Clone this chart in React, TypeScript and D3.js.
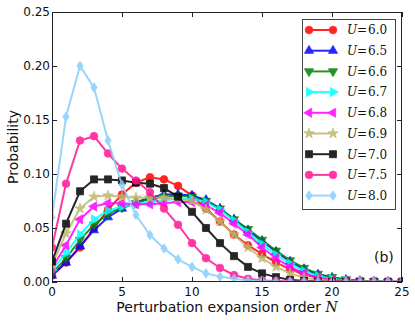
import React from "react";
import * as d3 from "d3";

// perturbation order N = 0..25
const orders = d3.range(0, 26);

const labels = ["6.0", "6.5", "6.6", "6.7", "6.8", "6.9", "7.0", "7.5", "8.0"];

const u60 = [0.006, 0.018, 0.032, 0.050, 0.067, 0.081, 0.092, 0.097, 0.095, 0.089, 0.080, 0.068, 0.056, 0.044, 0.034, 0.026, 0.018, 0.012, 0.007, 0.004, 0.002, 0.001, 0.0005, 0.0003, 0.0002, 0.0001];
const u65 = [0.006, 0.018, 0.033, 0.048, 0.060, 0.068, 0.074, 0.078, 0.081, 0.081, 0.080, 0.076, 0.068, 0.058, 0.048, 0.038, 0.028, 0.019, 0.012, 0.007, 0.004, 0.002, 0.001, 0.0005, 0.0003, 0.0002];
const u66 = [0.008, 0.022, 0.039, 0.053, 0.063, 0.069, 0.073, 0.077, 0.079, 0.080, 0.079, 0.075, 0.068, 0.058, 0.049, 0.039, 0.029, 0.020, 0.013, 0.0075, 0.0045, 0.0025, 0.0012, 0.0006, 0.0003, 0.0002];
const u67 = [0.011, 0.027, 0.044, 0.058, 0.066, 0.070, 0.072, 0.074, 0.076, 0.077, 0.077, 0.074, 0.067, 0.057, 0.046, 0.035, 0.025, 0.017, 0.010, 0.0055, 0.003, 0.0015, 0.0007, 0.0004, 0.0002, 0.0001];
const u68 = [0.013, 0.034, 0.058, 0.070, 0.073, 0.073, 0.072, 0.072, 0.073, 0.074, 0.074, 0.071, 0.064, 0.054, 0.044, 0.032, 0.022, 0.014, 0.008, 0.004, 0.002, 0.001, 0.0005, 0.0003, 0.0002, 0.0001];
const u69 = [0.016, 0.045, 0.068, 0.079, 0.080, 0.079, 0.078, 0.078, 0.078, 0.077, 0.075, 0.067, 0.056, 0.044, 0.032, 0.022, 0.014, 0.008, 0.004, 0.002, 0.001, 0.0005, 0.0003, 0.0002, 0.0001, 0.0001];
const u70 = [0.019, 0.054, 0.084, 0.095, 0.095, 0.094, 0.092, 0.091, 0.087, 0.079, 0.065, 0.050, 0.036, 0.024, 0.014, 0.008, 0.0045, 0.002, 0.001, 0.0005, 0.0003, 0.0002, 0.0001, 0.0001, 0.0001, 0.0001];
const u75 = [0.032, 0.091, 0.131, 0.135, 0.119, 0.105, 0.094, 0.083, 0.068, 0.053, 0.036, 0.022, 0.013, 0.0065, 0.003, 0.0015, 0.001, 0.0005, 0.0003, 0.0002, 0.0001, 0.0001, 0.0001, 0.0001, 0.0001, 0.0001];
const u80 = [0.060, 0.153, 0.200, 0.180, 0.131, 0.090, 0.062, 0.0435, 0.031, 0.021, 0.014, 0.008, 0.005, 0.003, 0.0015, 0.001, 0.0005, 0.0003, 0.0002, 0.0001, 0.0001, 0.0001, 0.0001, 0.0001, 0.0001, 0.0001];

const seriesValues = [u60, u65, u66, u67, u68, u69, u70, u75, u80];
const colors = ["#ff0000", "#0000ff", "#008000", "#00ffff", "#ff00ff", "#bdb76b", "#000000", "#ff1493", "#87cefa"];
const markers = ["circle", "triUp", "triDown", "triRight", "triLeft", "star", "square", "circle", "diamond"];

const xTicks = [0, 5, 10, 15, 20, 25];
const yTicks = [0, 0.05, 0.1, 0.15, 0.2, 0.25];

const W = 415, H = 322;
const left = 52, right = 402, top = 12, bottom = 282;

const triPath = (angle: number) => {
  const p = d3.symbol(d3.symbolTriangle, 36)() as string;
  return { d: p, rot: angle };
};

const markerShape = (kind: string) => {
  switch (kind) {
    case "circle": return { d: d3.symbol(d3.symbolCircle, 46)() as string, rot: 0 };
    case "square": return { d: d3.symbol(d3.symbolSquare, 50)() as string, rot: 0 };
    case "star": return { d: d3.symbol(d3.symbolStar, 34)() as string, rot: 0 };
    case "triUp": return triPath(0);
    case "triDown": return triPath(180);
    case "triRight": return triPath(90);
    case "triLeft": return triPath(-90);
    case "diamond": return { d: "M0,-4.8L3.2,0L0,4.8L-3.2,0Z", rot: 0 };
  }
  return { d: "", rot: 0 };
};

const Marker = ({ kind, x, y, color }: { kind: string; x: number; y: number; color: string }) => {
  const m = markerShape(kind);
  return (
    <path d={m.d} transform={`translate(${x},${y}) rotate(${m.rot})`} fill={color} stroke={color} strokeWidth={0.8} />
  );
};

const App = () => {
  const x = d3.scaleLinear().domain([0, 25]).range([left, right]);
  const y = d3.scaleLinear().domain([0, 0.25]).range([bottom, top]);
  const line = d3.line<number>().x((_, i) => x(orders[i])).y(d => y(d));

  const legX = 302, legY = 19, legW = 93, legH = 190;
  const rowY = (i: number) => 30 + i * 20.7;

  return (
    <svg width={W} height={H} style={{ position: "absolute", left: 0, top: 0, background: "#fff" }}>
      <defs>
        <clipPath id="plot">
          <rect x={left} y={top} width={right - left} height={bottom - top} />
        </clipPath>
      </defs>
      <rect width={W} height={H} fill="#fff" />
      <g clipPath="url(#plot)">
        {seriesValues.map((vals, s) => (
          <g key={s} opacity={0.85}>
            <path d={line(vals) as string} fill="none" stroke={colors[s]} strokeWidth={2} />
            {vals.map((v, i) => (
              <Marker key={i} kind={markers[s]} x={x(orders[i])} y={y(v)} color={colors[s]} />
            ))}
          </g>
        ))}
      </g>
      {/* frame */}
      <rect x={left + 0.5} y={top + 0.5} width={right - left - 1} height={bottom - top - 1} fill="none" stroke="#222" strokeWidth={1} />
      {xTicks.map(t => (
        <g key={t}>
          <line x1={Math.round(x(t)) + 0.5} x2={Math.round(x(t)) + 0.5} y1={bottom} y2={bottom - 5} stroke="#222" />
          <line x1={Math.round(x(t)) + 0.5} x2={Math.round(x(t)) + 0.5} y1={top} y2={top + 5} stroke="#222" />
          <text x={x(t)} y={296} textAnchor="middle" fontFamily="DejaVu Sans" fontSize={12} fill="#111">{t}</text>
        </g>
      ))}
      {yTicks.map(t => (
        <g key={t}>
          <line x1={left} x2={left + 5} y1={Math.round(y(t)) + 0.5} y2={Math.round(y(t)) + 0.5} stroke="#222" />
          <line x1={right} x2={right - 5} y1={Math.round(y(t)) + 0.5} y2={Math.round(y(t)) + 0.5} stroke="#222" />
          <text x={50} y={y(t) + 4.3} textAnchor="end" fontFamily="DejaVu Sans" fontSize={12} fill="#111">{t.toFixed(2)}</text>
        </g>
      ))}
      <text x={(left + right) / 2} y={312} textAnchor="middle" fontFamily="DejaVu Sans" fontSize={14} fill="#111">
        Perturbation expansion order <tspan fontFamily="DejaVu Serif" fontStyle="italic">N</tspan>
      </text>
      <text transform={`translate(17.5,${(top + bottom) / 2}) rotate(-90)`} textAnchor="middle" fontFamily="DejaVu Sans" fontSize={14} fill="#111">
        Probability
      </text>
      <text x={374} y={262} fontFamily="DejaVu Sans" fontSize={14} fill="#111">(b)</text>
      {/* legend */}
      <rect x={legX + 0.5} y={legY + 0.5} width={legW} height={legH} fill="#fff" stroke="#444" strokeWidth={1} />
      {labels.map((lab, s) => (
        <g key={lab} opacity={0.85}>
          <line x1={309} x2={333} y1={rowY(s)} y2={rowY(s)} stroke={colors[s]} strokeWidth={2} />
          <Marker kind={markers[s]} x={309} y={rowY(s)} color={colors[s]} />
          <Marker kind={markers[s]} x={333} y={rowY(s)} color={colors[s]} />
        </g>
      ))}
      {labels.map((lab, s) => (
        <g key={"t" + lab} fontFamily="DejaVu Serif" fontSize={12} fill="#111">
          <text x={347} y={rowY(s) + 4.3} fontStyle="italic">U</text>
          <text x={357} y={rowY(s) + 4.3}>=</text>
          <text x={368} y={rowY(s) + 4.3}>{lab}</text>
        </g>
      ))}
    </svg>
  );
};

export default App;
